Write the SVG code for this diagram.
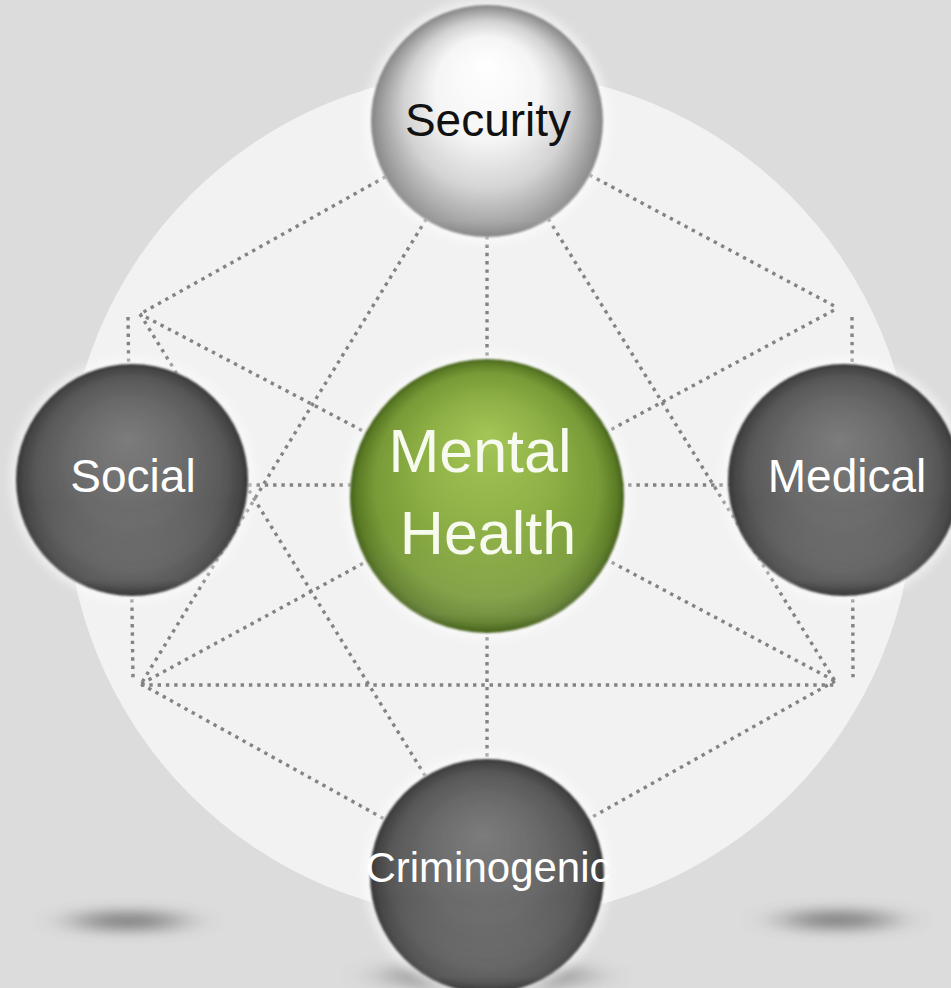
<svg xmlns="http://www.w3.org/2000/svg" width="951" height="988" viewBox="0 0 951 988">
<style>
.dot{fill:none;stroke:#838383;stroke-width:3.4;stroke-dasharray:3.4 4.9;}
.lbl{font-family:"Liberation Sans",Arial,sans-serif;text-anchor:middle;}
.w{fill:#ffffff;}
.glow{fill:#ffffff;opacity:0.55;}
</style>
<defs>
<radialGradient id="gDark" cx="0.5" cy="0.5" r="0.5" fx="0.48" fy="0.32">
<stop offset="0" stop-color="#7c7c7c"/>
<stop offset="0.5" stop-color="#6a6a6a"/>
<stop offset="0.82" stop-color="#585858"/>
<stop offset="0.95" stop-color="#444444"/>
<stop offset="1" stop-color="#363636"/>
</radialGradient>
<radialGradient id="gWhite" cx="0.5" cy="0.5" r="0.5" fx="0.5" fy="0.25">
<stop offset="0" stop-color="#ffffff"/>
<stop offset="0.45" stop-color="#f5f5f5"/>
<stop offset="0.72" stop-color="#d2d2d2"/>
<stop offset="0.9" stop-color="#a2a2a2"/>
<stop offset="1" stop-color="#858585"/>
</radialGradient>
<radialGradient id="gGreen" cx="0.5" cy="0.5" r="0.5" fx="0.5" fy="0.28">
<stop offset="0" stop-color="#a4c657"/>
<stop offset="0.5" stop-color="#8daf45"/>
<stop offset="0.82" stop-color="#789a37"/>
<stop offset="0.95" stop-color="#5b7b25"/>
<stop offset="1" stop-color="#44601a"/>
</radialGradient>
<linearGradient id="gRefl" x1="0" y1="0" x2="0" y2="1">
<stop offset="0.6" stop-color="#ffffff" stop-opacity="0"/>
<stop offset="0.93" stop-color="#ffffff" stop-opacity="0.12"/>
<stop offset="1" stop-color="#ffffff" stop-opacity="0"/>
</linearGradient>
<filter id="fShadow" x="-60%" y="-300%" width="220%" height="700%">
<feGaussianBlur stdDeviation="22 7"/>
</filter>
<filter id="fGlow" x="-20%" y="-20%" width="140%" height="140%">
<feGaussianBlur stdDeviation="5"/>
</filter>
<filter id="fSoft" x="-5%" y="-5%" width="110%" height="110%">
<feGaussianBlur stdDeviation="1.3"/>
</filter>
</defs>

<rect x="0" y="0" width="951" height="988" fill="#dcdcdc"/>
<circle cx="490" cy="495" r="424" fill="#f2f2f2"/>

<g id="shadows">
<ellipse cx="128" cy="921" rx="55" ry="9" fill="#5a5a5a" opacity="0.75" filter="url(#fShadow)"/>
<ellipse cx="838" cy="920" rx="55" ry="9" fill="#5a5a5a" opacity="0.75" filter="url(#fShadow)"/>
<ellipse cx="487" cy="976" rx="105" ry="14" fill="#5a5a5a" opacity="0.5" filter="url(#fShadow)"/>
</g>

<g id="connectors">
<line class="dot" x1="487" y1="120" x2="140" y2="314"/>
<line class="dot" x1="487" y1="120" x2="838" y2="308"/>
<line class="dot" x1="487" y1="120" x2="141" y2="684"/>
<line class="dot" x1="487" y1="120" x2="835" y2="681"/>
<line class="dot" x1="487" y1="120" x2="487" y2="496"/>
<line class="dot" x1="487" y1="496" x2="140" y2="314"/>
<line class="dot" x1="487" y1="496" x2="838" y2="308"/>
<line class="dot" x1="487" y1="496" x2="141" y2="684"/>
<line class="dot" x1="487" y1="496" x2="835" y2="681"/>
<line class="dot" x1="132" y1="485" x2="487" y2="485"/>
<line class="dot" x1="487" y1="485" x2="845" y2="485"/>
<line class="dot" x1="487" y1="496" x2="487" y2="876"/>
<line class="dot" x1="140" y1="314" x2="487" y2="876"/>
<line class="dot" x1="141" y1="684" x2="487" y2="876"/>
<line class="dot" x1="835" y1="681" x2="487" y2="876"/>
<line class="dot" x1="141" y1="685" x2="835" y2="685"/>
<line class="dot" x1="128" y1="317" x2="133" y2="680"/>
<line class="dot" x1="852" y1="317" x2="853" y2="682"/>
</g>

<g id="node-security">
<circle class="glow" cx="487" cy="121" r="122" filter="url(#fGlow)"/>
<circle cx="487" cy="121" r="116" fill="url(#gWhite)" filter="url(#fSoft)"/>
<circle cx="487" cy="121" r="116" fill="url(#gRefl)"/>
<text class="lbl" x="488" y="136" font-size="46" fill="#111111">Security</text>
</g>

<g id="node-social">
<circle class="glow" cx="132" cy="480" r="122" filter="url(#fGlow)"/>
<circle cx="132" cy="480" r="116" fill="url(#gDark)" filter="url(#fSoft)"/>
<circle cx="132" cy="480" r="116" fill="url(#gRefl)"/>
<text class="lbl w" x="133" y="492" font-size="46">Social</text>
</g>

<g id="node-medical">
<circle class="glow" cx="844" cy="480" r="122" filter="url(#fGlow)"/>
<circle cx="844" cy="480" r="116" fill="url(#gDark)" filter="url(#fSoft)"/>
<circle cx="844" cy="480" r="116" fill="url(#gRefl)"/>
<text class="lbl w" x="847" y="492" font-size="46">Medical</text>
</g>

<g id="node-mental-health">
<circle class="glow" cx="487" cy="496" r="143" filter="url(#fGlow)"/>
<circle cx="487" cy="496" r="137" fill="url(#gGreen)" filter="url(#fSoft)"/>
<circle cx="487" cy="496" r="137" fill="url(#gRefl)"/>
<text class="lbl" x="480" y="472" font-size="61" fill="#f7faef">Mental</text>
<text class="lbl" x="488" y="554" font-size="61" fill="#f7faef">Health</text>
</g>

<g id="node-criminogenic">
<circle class="glow" cx="487" cy="876" r="123" filter="url(#fGlow)"/>
<circle cx="487" cy="876" r="117" fill="url(#gDark)" filter="url(#fSoft)"/>
<circle cx="487" cy="876" r="117" fill="url(#gRefl)"/>
<text class="lbl w" x="488" y="882" font-size="42">Criminogenic</text>
</g>
</svg>
